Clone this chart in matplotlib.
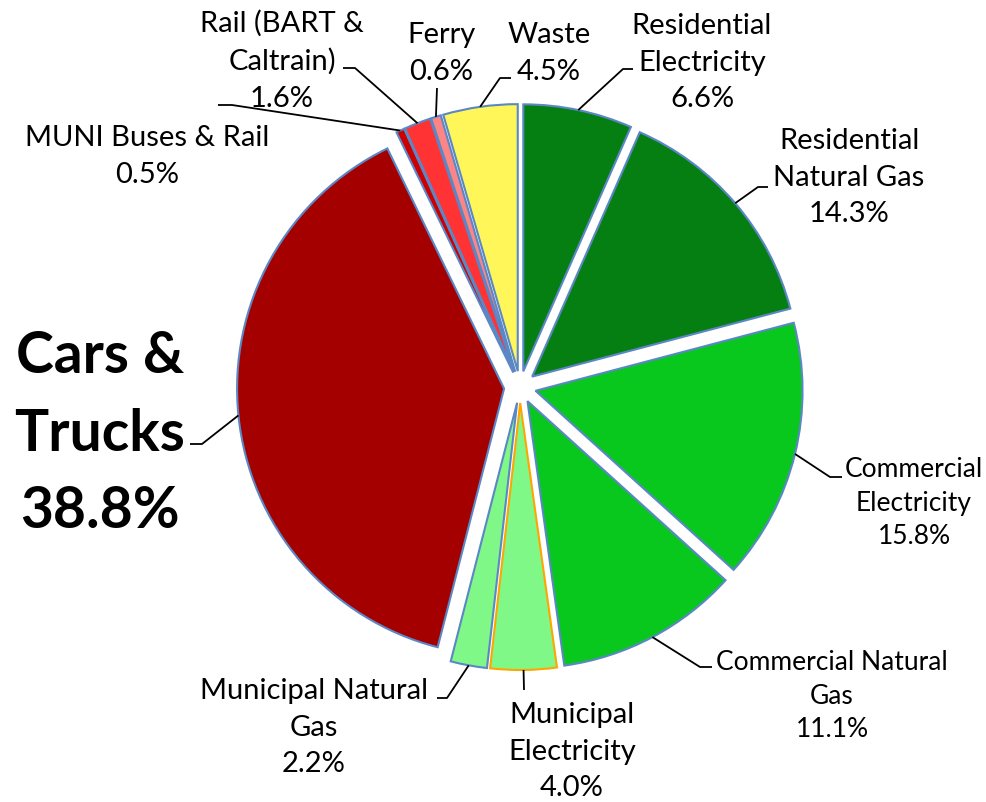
import matplotlib
import matplotlib.pyplot as plt
import numpy as np

matplotlib.rc('font', family='Lato')

W, H = 986, 802

sectors = ["Residential\nElectricity", "Residential\nNatural Gas", "Commercial\nElectricity",
           "Commercial Natural\nGas", "Municipal\nElectricity", "Municipal Natural\nGas",
           "Cars &\nTrucks", "MUNI Buses & Rail", "Rail (BART &\nCaltrain)", "Ferry", "Waste"]
shares = [6.6, 14.3, 15.8, 11.1, 4.0, 2.2, 38.8, 0.5, 1.6, 0.6, 4.5]
colors = ['#067F12', '#067F12', '#08C81E', '#08C81E', '#80F888', '#80F888',
          '#A50000', '#CC0000', '#FF3333', '#FF8585', '#FFF75A']
edges = ['#5B87C5'] * 11
edges[4] = '#FFA500'

# label layout in pixel coords (y from top): text centre x, cap top y, font size, leader points
layout = {
    0: dict(tx=702, ty=13, fs=21, pts=[(623, 69), (633, 69)]),
    1: dict(tx=849, ty=128, fs=21, pts=[(758, 187), (768, 187)]),
    2: dict(tx=914, ty=457, fs=19, pts=[(830, 477), (842, 477)]),
    3: dict(tx=832, ty=650, fs=19, pts=[(700, 667), (712, 667)]),
    4: dict(tx=572, ty=702, fs=21, pts=[(524, 690)]),
    5: dict(tx=314, ty=678, fs=21, pts=[(447, 698), (437, 698)]),
    7: dict(tx=147, ty=125, fs=21, pts=[(232, 105), (218, 105)]),
    8: dict(tx=282, ty=10, fs=21, pts=[(355, 68), (343, 68)]),
    9: dict(tx=441, ty=22, fs=21, pts=[(437, 88)]),
    10: dict(tx=549, ty=22, fs=21, pts=[(500, 78), (511, 78)]),
}

fig = plt.figure(figsize=(W / 100, H / 100), dpi=100)
ax = fig.add_axes([0, 0, 1, 1])

cx, cy, rad, gap = 520, H - 387, 267, 16
wedges, _ = ax.pie(shares, colors=colors, startangle=90, counterclock=False,
                   center=(cx, cy), radius=rad, explode=[gap] * len(shares), frame=True,
                   wedgeprops=dict(linewidth=1.5))
for w, ec in zip(wedges, edges):
    w.set_edgecolor(ec)
ax.set_xlim(0, W)
ax.set_ylim(0, H)
ax.set_aspect('equal')
ax.axis('off')

def anchor(w):
    a = np.deg2rad((w.theta1 + w.theta2) / 2)
    x0, y0 = w.center
    return x0 + w.r * np.cos(a), y0 + w.r * np.sin(a)

for i, lay in layout.items():
    x0, y0 = anchor(wedges[i])
    xs, ys = [x0], [y0]
    for px, py in lay['pts']:
        xs.append(px)
        ys.append(H - py)
    ax.plot(xs, ys, color='k', lw=1.3, solid_capstyle='butt')
    ls = 1.51 if lay['fs'] == 21 else 1.43
    ax.text(lay['tx'], H - lay['ty'], f"{sectors[i]}\n{shares[i]:.1f}%", ha='center', va='top',
            fontsize=lay['fs'], linespacing=ls)

# Cars & Trucks big label
x0, y0 = anchor(wedges[6])
ax.plot([x0, 202, 190], [y0, H - 444, H - 444], color='k', lw=1.3, solid_capstyle='butt')
ax.text(100, H - 330, f"{sectors[6]}\n{shares[6]:.1f}%", ha='center', va='top',
        fontsize=41, fontweight='bold', linespacing=1.57)

fig.savefig('out.png', dpi=100)
